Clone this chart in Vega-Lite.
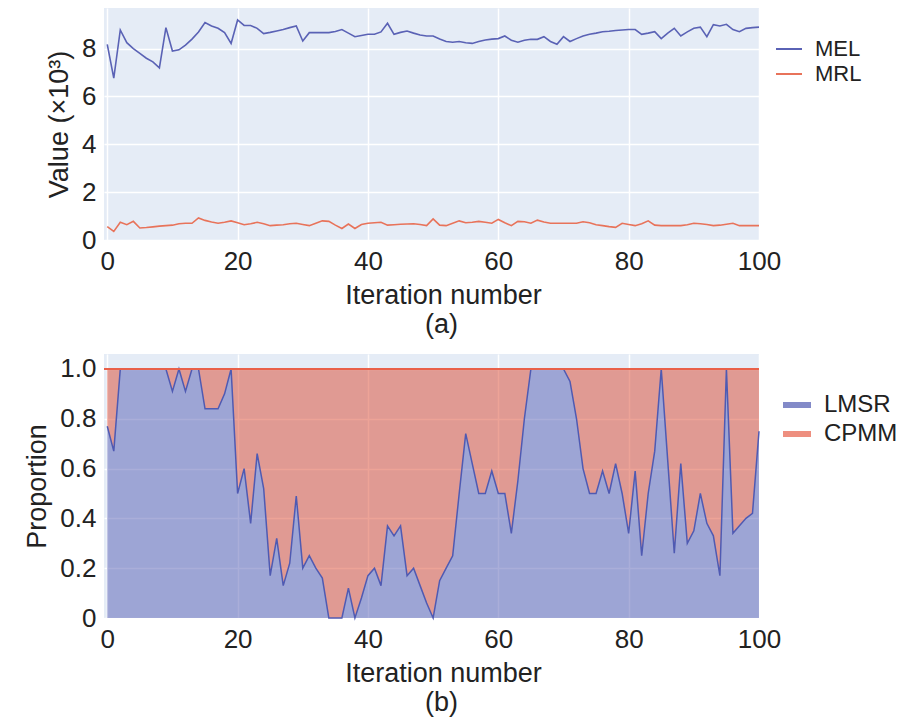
{
  "$schema": "https://vega.github.io/schema/vega-lite/v6.json",
  "background": "white",
  "padding": {"left": 23, "top": 8, "right": 5, "bottom": 5},
  "datasets": {
    "d": [
      {"i":0,"MEL":8.18,"MRL":0.56,"LMSR":0.77},
      {"i":1,"MEL":6.77,"MRL":0.36,"LMSR":0.67},
      {"i":2,"MEL":8.78,"MRL":0.74,"LMSR":1.0},
      {"i":3,"MEL":8.25,"MRL":0.64,"LMSR":1.0},
      {"i":4,"MEL":8.0,"MRL":0.78,"LMSR":1.0},
      {"i":5,"MEL":7.8,"MRL":0.5,"LMSR":1.0},
      {"i":6,"MEL":7.6,"MRL":0.52,"LMSR":1.0},
      {"i":7,"MEL":7.45,"MRL":0.55,"LMSR":1.0},
      {"i":8,"MEL":7.2,"MRL":0.58,"LMSR":1.0},
      {"i":9,"MEL":8.88,"MRL":0.6,"LMSR":1.0},
      {"i":10,"MEL":7.9,"MRL":0.62,"LMSR":0.91},
      {"i":11,"MEL":7.95,"MRL":0.68,"LMSR":1.0},
      {"i":12,"MEL":8.15,"MRL":0.7,"LMSR":0.91},
      {"i":13,"MEL":8.4,"MRL":0.7,"LMSR":1.0},
      {"i":14,"MEL":8.7,"MRL":0.92,"LMSR":1.0},
      {"i":15,"MEL":9.09,"MRL":0.82,"LMSR":0.84},
      {"i":16,"MEL":8.95,"MRL":0.75,"LMSR":0.84},
      {"i":17,"MEL":8.85,"MRL":0.7,"LMSR":0.84},
      {"i":18,"MEL":8.67,"MRL":0.74,"LMSR":0.9},
      {"i":19,"MEL":8.22,"MRL":0.8,"LMSR":1.0},
      {"i":20,"MEL":9.2,"MRL":0.72,"LMSR":0.5},
      {"i":21,"MEL":8.97,"MRL":0.64,"LMSR":0.6},
      {"i":22,"MEL":8.97,"MRL":0.68,"LMSR":0.38},
      {"i":23,"MEL":8.85,"MRL":0.74,"LMSR":0.66},
      {"i":24,"MEL":8.63,"MRL":0.68,"LMSR":0.52},
      {"i":25,"MEL":8.68,"MRL":0.6,"LMSR":0.17},
      {"i":26,"MEL":8.74,"MRL":0.62,"LMSR":0.32},
      {"i":27,"MEL":8.8,"MRL":0.64,"LMSR":0.13},
      {"i":28,"MEL":8.88,"MRL":0.68,"LMSR":0.22},
      {"i":29,"MEL":8.95,"MRL":0.7,"LMSR":0.49},
      {"i":30,"MEL":8.32,"MRL":0.65,"LMSR":0.2},
      {"i":31,"MEL":8.67,"MRL":0.6,"LMSR":0.25},
      {"i":32,"MEL":8.67,"MRL":0.7,"LMSR":0.2},
      {"i":33,"MEL":8.67,"MRL":0.8,"LMSR":0.16},
      {"i":34,"MEL":8.67,"MRL":0.78,"LMSR":0.0},
      {"i":35,"MEL":8.72,"MRL":0.62,"LMSR":0.0},
      {"i":36,"MEL":8.8,"MRL":0.48,"LMSR":0.0},
      {"i":37,"MEL":8.65,"MRL":0.67,"LMSR":0.12},
      {"i":38,"MEL":8.5,"MRL":0.48,"LMSR":0.0},
      {"i":39,"MEL":8.55,"MRL":0.65,"LMSR":0.08},
      {"i":40,"MEL":8.6,"MRL":0.7,"LMSR":0.17},
      {"i":41,"MEL":8.6,"MRL":0.72,"LMSR":0.2},
      {"i":42,"MEL":8.7,"MRL":0.74,"LMSR":0.13},
      {"i":43,"MEL":9.06,"MRL":0.62,"LMSR":0.37},
      {"i":44,"MEL":8.6,"MRL":0.64,"LMSR":0.33},
      {"i":45,"MEL":8.68,"MRL":0.66,"LMSR":0.37},
      {"i":46,"MEL":8.74,"MRL":0.67,"LMSR":0.17},
      {"i":47,"MEL":8.65,"MRL":0.68,"LMSR":0.2},
      {"i":48,"MEL":8.57,"MRL":0.65,"LMSR":0.13},
      {"i":49,"MEL":8.53,"MRL":0.6,"LMSR":0.06},
      {"i":50,"MEL":8.53,"MRL":0.88,"LMSR":0.0},
      {"i":51,"MEL":8.4,"MRL":0.62,"LMSR":0.15},
      {"i":52,"MEL":8.3,"MRL":0.6,"LMSR":0.2},
      {"i":53,"MEL":8.27,"MRL":0.7,"LMSR":0.25},
      {"i":54,"MEL":8.3,"MRL":0.8,"LMSR":0.5},
      {"i":55,"MEL":8.25,"MRL":0.72,"LMSR":0.74},
      {"i":56,"MEL":8.22,"MRL":0.74,"LMSR":0.62},
      {"i":57,"MEL":8.3,"MRL":0.78,"LMSR":0.5},
      {"i":58,"MEL":8.36,"MRL":0.74,"LMSR":0.5},
      {"i":59,"MEL":8.4,"MRL":0.7,"LMSR":0.59},
      {"i":60,"MEL":8.42,"MRL":0.86,"LMSR":0.5},
      {"i":61,"MEL":8.53,"MRL":0.72,"LMSR":0.5},
      {"i":62,"MEL":8.35,"MRL":0.6,"LMSR":0.34},
      {"i":63,"MEL":8.27,"MRL":0.78,"LMSR":0.55},
      {"i":64,"MEL":8.35,"MRL":0.76,"LMSR":0.8},
      {"i":65,"MEL":8.39,"MRL":0.7,"LMSR":1.0},
      {"i":66,"MEL":8.39,"MRL":0.83,"LMSR":1.0},
      {"i":67,"MEL":8.5,"MRL":0.75,"LMSR":1.0},
      {"i":68,"MEL":8.3,"MRL":0.7,"LMSR":1.0},
      {"i":69,"MEL":8.18,"MRL":0.7,"LMSR":1.0},
      {"i":70,"MEL":8.5,"MRL":0.7,"LMSR":1.0},
      {"i":71,"MEL":8.3,"MRL":0.7,"LMSR":0.95},
      {"i":72,"MEL":8.42,"MRL":0.7,"LMSR":0.8},
      {"i":73,"MEL":8.53,"MRL":0.76,"LMSR":0.6},
      {"i":74,"MEL":8.6,"MRL":0.72,"LMSR":0.5},
      {"i":75,"MEL":8.65,"MRL":0.64,"LMSR":0.5},
      {"i":76,"MEL":8.71,"MRL":0.6,"LMSR":0.59},
      {"i":77,"MEL":8.73,"MRL":0.56,"LMSR":0.5},
      {"i":78,"MEL":8.76,"MRL":0.53,"LMSR":0.62},
      {"i":79,"MEL":8.78,"MRL":0.7,"LMSR":0.5},
      {"i":80,"MEL":8.8,"MRL":0.65,"LMSR":0.34},
      {"i":81,"MEL":8.8,"MRL":0.6,"LMSR":0.59},
      {"i":82,"MEL":8.6,"MRL":0.68,"LMSR":0.25},
      {"i":83,"MEL":8.65,"MRL":0.8,"LMSR":0.5},
      {"i":84,"MEL":8.71,"MRL":0.62,"LMSR":0.67},
      {"i":85,"MEL":8.42,"MRL":0.6,"LMSR":1.0},
      {"i":86,"MEL":8.65,"MRL":0.6,"LMSR":0.63},
      {"i":87,"MEL":8.85,"MRL":0.6,"LMSR":0.26},
      {"i":88,"MEL":8.53,"MRL":0.6,"LMSR":0.62},
      {"i":89,"MEL":8.7,"MRL":0.64,"LMSR":0.3},
      {"i":90,"MEL":8.85,"MRL":0.7,"LMSR":0.35},
      {"i":91,"MEL":8.9,"MRL":0.68,"LMSR":0.5},
      {"i":92,"MEL":8.5,"MRL":0.65,"LMSR":0.38},
      {"i":93,"MEL":9.0,"MRL":0.6,"LMSR":0.33},
      {"i":94,"MEL":8.95,"MRL":0.62,"LMSR":0.17},
      {"i":95,"MEL":9.02,"MRL":0.66,"LMSR":1.0},
      {"i":96,"MEL":8.8,"MRL":0.7,"LMSR":0.34},
      {"i":97,"MEL":8.71,"MRL":0.6,"LMSR":0.37},
      {"i":98,"MEL":8.85,"MRL":0.6,"LMSR":0.4},
      {"i":99,"MEL":8.88,"MRL":0.6,"LMSR":0.42},
      {"i":100,"MEL":8.9,"MRL":0.6,"LMSR":0.75}
    ]
  },
  "data": {"name": "d"},
  "spacing": 16,
  "resolve": {
    "scale": {"color": "independent", "x": "independent", "y": "independent"},
    "legend": {"color": "independent"}
  },
  "vconcat": [
    {
      "width": 655,
      "height": 232,
      "title": {"text": "(a)", "orient": "bottom", "anchor": "middle", "dx": 10, "offset": 4},
      "transform": [{"fold": ["MEL", "MRL"], "as": ["series", "value"]}],
      "mark": {"type": "line", "strokeWidth": 1.6},
      "encoding": {
        "x": {
          "field": "i", "type": "quantitative",
          "scale": {"domain": [-0.5, 100], "nice": false, "zero": false},
          "axis": {"values": [0, 20, 40, 60, 80, 100], "title": "Iteration number", "titleX": 339}
        },
        "y": {
          "field": "value", "type": "quantitative",
          "scale": {"domain": [0, 9.7], "nice": false},
          "axis": {"values": [0, 2, 4, 6, 8], "title": "Value (×10³)"}
        },
        "color": {
          "field": "series", "type": "nominal",
          "scale": {"domain": ["MEL", "MRL"], "range": ["#5A62B5", "#E8735A"]},
          "legend": {
            "title": null, "orient": "none", "legendX": 671, "legendY": 27,
            "symbolType": "stroke", "symbolSize": 676, "symbolStrokeWidth": 2,
            "labelFontSize": 22, "labelOffset": 12
          }
        }
      }
    },
    {
      "width": 655,
      "height": 264,
      "title": {"text": "(b)", "orient": "bottom", "anchor": "middle", "dx": 10, "offset": 4},
      "layer": [
        {
          "mark": {"type": "area", "color": "#DB4830", "opacity": 0.5},
          "encoding": {
            "x": {
              "field": "i", "type": "quantitative",
              "scale": {"domain": [-0.5, 100], "nice": false, "zero": false},
              "axis": {"values": [0, 20, 40, 60, 80, 100], "title": "Iteration number", "titleX": 339}
            },
            "y": {
              "field": "LMSR", "type": "quantitative",
              "scale": {"domain": [0, 1.06], "nice": false},
              "axis": {
                "values": [0, 0.2, 0.4, 0.6, 0.8, 1],
                "title": "Proportion",
                "labelExpr": "datum.value == 0 ? '0' : format(datum.value, '.1f')"
              }
            },
            "y2": {"datum": 1}
          }
        },
        {
          "mark": {"type": "area", "color": "#555EB4", "opacity": 0.5},
          "encoding": {
            "x": {"field": "i", "type": "quantitative"},
            "y": {"field": "LMSR", "type": "quantitative"}
          }
        },
        {
          "mark": {"type": "line", "strokeWidth": 1.5},
          "encoding": {
            "x": {"field": "i", "type": "quantitative"},
            "y": {"field": "LMSR", "type": "quantitative"},
            "color": {
              "datum": "LMSR", "type": "nominal",
              "scale": {"domain": ["LMSR", "CPMM"], "range": ["#4F5AB2", "#E8604A"]},
              "legend": {
                "title": null, "orient": "none", "legendX": 676, "legendY": 34,
                "symbolType": "stroke", "symbolSize": 784, "symbolStrokeWidth": 6,
                "symbolOpacity": 0.7, "labelFontSize": 24, "labelOffset": 10
              }
            }
          }
        },
        {
          "mark": {"type": "rule", "strokeWidth": 1.5},
          "encoding": {
            "y": {"datum": 1},
            "color": {"datum": "CPMM", "type": "nominal"}
          }
        }
      ]
    }
  ],
  "config": {
    "font": "Liberation Sans",
    "view": {"fill": "#E5ECF6", "stroke": null},
    "axis": {
      "domain": false, "ticks": false, "grid": true,
      "gridColor": "white", "gridWidth": 1.5,
      "labelFontSize": 26, "titleFontSize": 27, "titleFontWeight": "normal",
      "labelColor": "#222222", "titleColor": "#222222",
      "labelPadding": 8, "titlePadding": 8
    },
    "axisX": {"labelFlush": false},
    "legend": {"padding": 0, "labelColor": "#222222", "rowPadding": 0},
    "title": {"fontSize": 27, "fontWeight": "normal", "color": "#222222"}
  }
}
